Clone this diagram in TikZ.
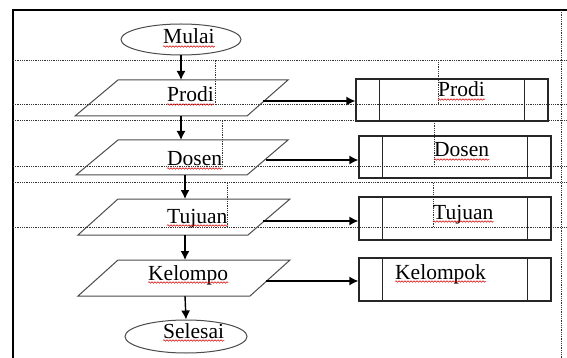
\documentclass[tikz,border=0pt]{standalone}
\usepackage{fontspec}
\setmainfont{Liberation Serif}
\usetikzlibrary{arrows.meta,decorations.pathmorphing,shapes.geometric}
\begin{document}
\begin{tikzpicture}[x=1pt,y=-1pt,
  frame/.style={line width=1.8pt,black},
  tab/.style={dash pattern=on 0.9pt off 0.9pt, line width=1pt, black!80},
  para/.style={draw=black!70, line width=1pt},
  term/.style={ellipse, draw=black!70, line width=1pt, minimum width=120pt, minimum height=31pt, inner sep=0},
  pbox/.style={rectangle, draw=black!85, line width=1.3pt, minimum width=192pt, minimum height=42pt, inner sep=0},
  lbl/.style={anchor=base west, inner sep=0, font=\fontsize{21.5}{25}\selectfont},
  flow/.style={-{Latex[length=9pt,width=9pt]}, line width=1.4pt, black},
  squig/.style={red!85!black, line width=0.5pt, decorate, decoration={snake, amplitude=0.8pt, segment length=3pt}}
]
\useasboundingbox (0,0) rectangle (567,358);
\fill[white] (0,0) rectangle (567,358);

% page frame
\draw[frame] (13,358) -- (13,10) -- (567,10);
% table borders (dotted)
\draw[tab] (561,10) -- (561,358);
\draw[tab] (13,61) -- (567,61);
\draw[tab] (13,105) -- (567,105);
\draw[tab] (215,61) -- (215,105);
\draw[tab] (438,62) -- (438,105);
\draw[tab] (13,121) -- (567,121);
\draw[tab] (13,167) -- (567,167);
\draw[tab] (222,121) -- (222,167);
\draw[tab] (434,121) -- (434,167);
\draw[tab] (13,183) -- (567,183);
\draw[tab] (13,227) -- (567,227);
\draw[tab] (227,183) -- (227,227);
\draw[tab] (433,183) -- (433,227);

% terminals
\node[term] (mulai) at (181,39.5) {};
\node[term, minimum width=122pt, minimum height=33pt] (selesai) at (186,336.5) {};

% parallelograms
\draw[para] (118,80) -- (288,80) -- (247,116) -- (75,116) -- cycle;
\coordinate (pT) at (181,80); \coordinate (pB) at (181,116); \coordinate (pR) at (263,101);
\draw[para] (118,140) -- (288,140) -- (247,175) -- (76,175) -- cycle;
\coordinate (dT) at (181,140); \coordinate (dB) at (185,175); \coordinate (dR) at (266,160);
\draw[para] (118,199) -- (290,199) -- (248,235) -- (78,235) -- cycle;
\coordinate (tT) at (185,199); \coordinate (tB) at (185,235); \coordinate (tR) at (263,221);
\draw[para] (118,260) -- (290,260) -- (250,296) -- (78,296) -- cycle;
\coordinate (kT) at (185,260); \coordinate (kB) at (185,296); \coordinate (kR) at (266,281);

% predefined process boxes
\node[pbox] (bP) at (452,100) {};
\node[pbox] (bD) at (455,157) {};
\node[pbox, minimum height=43pt] (bT) at (455,218.5) {};
\node[pbox, minimum height=43pt] (bK) at (455,279.5) {};
\foreach \b in {bP,bD,bT,bK}{
  \draw[line width=1.3pt, black!85] ([xshift=24pt]\b.north west) -- ([xshift=24pt]\b.south west);
  \draw[line width=1.3pt, black!85] ([xshift=-24pt]\b.north east) -- ([xshift=-24pt]\b.south east);
}

% flow arrows
\draw[flow] (mulai.south) -- (pT);
\draw[flow] (pB) -- (dT);
\draw[flow] (dB) -- (tT);
\draw[flow] (tB) -- (kT);
\draw[flow] (kB) -- (selesai.north);
\draw[flow] (pR) -- (pR -| bP.west);
\draw[flow] (dR) -- (dR -| bD.west);
\draw[flow] (tR) -- (tR -| bT.west);
\draw[flow] (kR) -- (kR -| bK.west);

% labels
\node[lbl] (l1) at (163,44) {Mulai};
\node[lbl] (l2) at (167,102) {Prodi};
\node[lbl] (l3) at (167,166) {Dosen};
\node[lbl] (l4) at (167,223) {Tujuan};
\node[lbl] (l5) at (148,280) {Kelompo};
\node[lbl] (l6) at (163,338) {Selesai};
\node[lbl] (r1) at (438,97) {Prodi};
\node[lbl] (r2) at (434,157) {Dosen};
\node[lbl] (r3) at (433,219) {Tujuan};
\node[lbl] (r4) at (395,279) {Kelompok};
\foreach \t in {l1,l2,l3,l4,l5,l6,r1,r2,r3,r4}{
  \draw[squig] ([yshift=-2.5pt]\t.base west) -- ([yshift=-2.5pt]\t.base east);
}
\end{tikzpicture}
\end{document}
